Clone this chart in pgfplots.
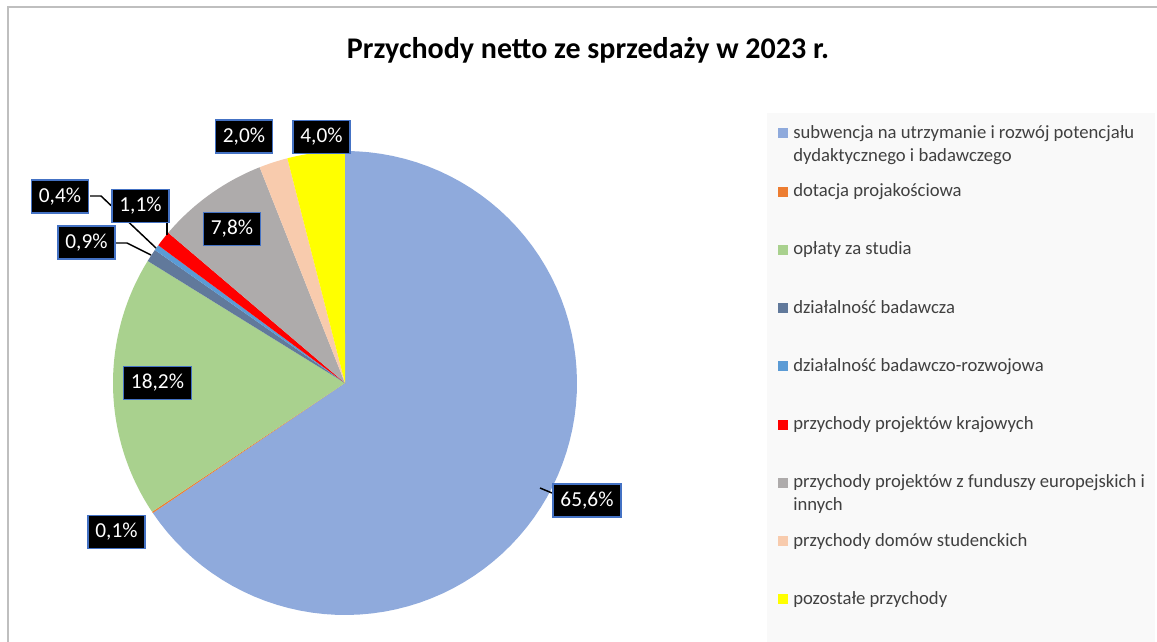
\documentclass[border=0pt]{standalone}
\usepackage{fontspec}
\setmainfont{Carlito}
\usepackage{pgfplots}
\pgfplotsset{compat=1.18}

\definecolor{c1}{HTML}{8FAADC}
\definecolor{c2}{HTML}{ED7D31}
\definecolor{c3}{HTML}{A9D18E}
\definecolor{c4}{HTML}{61799B}
\definecolor{c5}{HTML}{5B9BD5}
\definecolor{c6}{HTML}{FF0000}
\definecolor{c7}{HTML}{AEABAB}
\definecolor{c8}{HTML}{F8CBAD}
\definecolor{c9}{HTML}{FFFF00}
\definecolor{labblue}{HTML}{4472C4}
\definecolor{legbg}{HTML}{F9F9F9}
\definecolor{legtext}{HTML}{404040}
\definecolor{framegray}{HTML}{BFBFBF}

% pie centre and radius in pixel units of the reference
\def\cx{345}
\def\cy{383}
\def\rr{232}
\def\total{100.1}

% one slice: cumulative start and end percentage, colour
\newcommand{\slice}[3]{%
  \addplot[fill=#3, draw=none, domain={#1*360/\total}:{#2*360/\total}, samples=80, variable=\t]
    ({\cx+\rr*sin(\t)}, {\cy-\rr*cos(\t)}) -- (\cx,\cy) -- cycle;
}

\begin{document}
\begin{tikzpicture}[
  lab/.style={fill=black, draw=labblue, line width=1.1pt, text=white,
    font=\fontsize{16}{19}\selectfont, inner xsep=5.5pt, inner ysep=0pt,
    minimum height=24.5pt},
  lead/.style={black, line width=1.1pt}
]
\begin{axis}[
  width=867.75pt, height=481.5pt, scale only axis,
  xmin=0, xmax=1157, ymin=0, ymax=642, y dir=reverse,
  hide axis, clip=false,
  legend cell align=left,
  legend image code/.code={%
    \path[fill=none, draw=none] (0pt,-20pt) rectangle (7.5pt,20pt);
    \fill[#1] (0pt,11.85pt) rectangle (7.5pt,19.35pt);},
  legend style={at={(axis cs:778,124.7)}, anchor=north west,
    draw=none, fill=none, inner sep=0pt, row sep=0pt, column sep=0pt,
    font=\fontsize{14}{17.2}\selectfont, text=legtext,
    nodes={inner xsep=3.75pt, inner ysep=0pt, text height=10pt, text depth=33.7pt}},
]
% frame and legend panel
\draw[framegray, line width=1.1pt] (8,642) -- (8,7) -- (1157,7);
\fill[legbg] (767,113) rectangle (1155,642);

% cumulative shares, clockwise from 12 o'clock
\slice{0}{65.6}{c1}
\addlegendentry{\parbox[t]{300pt}{subwencja na utrzymanie i rozwój potencjału\\dydaktycznego i badawczego}}
\slice{65.6}{65.7}{c2}
\addlegendentry{dotacja projakościowa}
\slice{65.7}{83.9}{c3}
\addlegendentry{opłaty za studia}
\slice{83.9}{84.8}{c4}
\addlegendentry{działalność badawcza}
\slice{84.8}{85.2}{c5}
\addlegendentry{działalność badawczo-rozwojowa}
\slice{85.2}{86.3}{c6}
\addlegendentry{przychody projektów krajowych}
\slice{86.3}{94.1}{c7}
\addlegendentry{\parbox[t]{300pt}{przychody projektów z funduszy europejskich i\\innych}}
\slice{94.1}{96.1}{c8}
\addlegendentry{przychody domów studenckich}
\slice{96.1}{100.1}{c9}
\addlegendentry{pozostałe przychody}

% leader lines
\draw[lead] (540,488) -- (552,493);
\draw[lead] (116,243) -- (127,243) -- (151,255);
\draw[lead] (90,196) -- (101,196) -- (156,248);
\draw[lead] (167,222) -- (167,235);

% data labels
\node[lab] at (587,500.5) {65,6\%};
\node[lab] at (116.5,532) {0,1\%};
\node[lab] at (157.5,383) {18,2\%};
\node[lab] at (86.5,242.5) {0,9\%};
\node[lab] at (60,196.5) {0,4\%};
\node[lab] at (140.5,206) {1,1\%};
\node[lab] at (232,229) {7,8\%};
\node[lab] at (244,136.5) {2,0\%};
\node[lab] at (321.5,137) {4,0\%};

% title
\node[font=\fontsize{22.5}{27}\selectfont\bfseries] at (588,50) {Przychody netto ze sprzedaży w 2023 r.};
\end{axis}
\pgfresetboundingbox
\path (current axis.south west) rectangle (current axis.north east);
\end{tikzpicture}
\end{document}
